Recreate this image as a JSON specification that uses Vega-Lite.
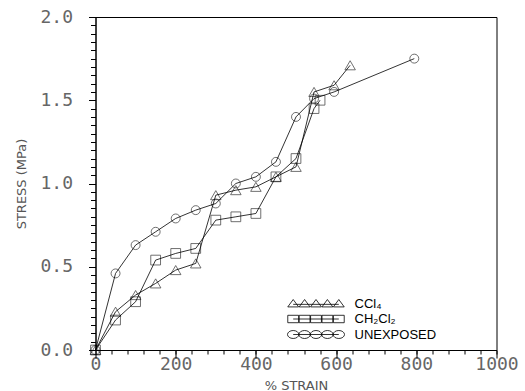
{
  "$schema": "https://vega.github.io/schema/vega-lite/v6.json",
  "width": 401,
  "height": 333,
  "padding": {"left": 15.5, "top": 8, "right": 5, "bottom": 5},
  "config": {
    "view": {"stroke": "#000", "strokeWidth": 1}
  },
  "data": {
    "values": [
      {"series": "CCl₄", "strain": 0, "stress": 0.0},
      {"series": "CCl₄", "strain": 50, "stress": 0.23},
      {"series": "CCl₄", "strain": 100, "stress": 0.33},
      {"series": "CCl₄", "strain": 150, "stress": 0.40},
      {"series": "CCl₄", "strain": 200, "stress": 0.48},
      {"series": "CCl₄", "strain": 250, "stress": 0.52},
      {"series": "CCl₄", "strain": 300, "stress": 0.93},
      {"series": "CCl₄", "strain": 350, "stress": 0.96},
      {"series": "CCl₄", "strain": 400, "stress": 0.98},
      {"series": "CCl₄", "strain": 450, "stress": 1.04},
      {"series": "CCl₄", "strain": 500, "stress": 1.10},
      {"series": "CCl₄", "strain": 545, "stress": 1.55},
      {"series": "CCl₄", "strain": 595, "stress": 1.59},
      {"series": "CCl₄", "strain": 635, "stress": 1.71},
      {"series": "CH₂Cl₂", "strain": 0, "stress": 0.0},
      {"series": "CH₂Cl₂", "strain": 50, "stress": 0.18},
      {"series": "CH₂Cl₂", "strain": 100, "stress": 0.29},
      {"series": "CH₂Cl₂", "strain": 150, "stress": 0.54},
      {"series": "CH₂Cl₂", "strain": 200, "stress": 0.58},
      {"series": "CH₂Cl₂", "strain": 250, "stress": 0.61},
      {"series": "CH₂Cl₂", "strain": 300, "stress": 0.78},
      {"series": "CH₂Cl₂", "strain": 350, "stress": 0.80},
      {"series": "CH₂Cl₂", "strain": 400, "stress": 0.82},
      {"series": "CH₂Cl₂", "strain": 450, "stress": 1.04},
      {"series": "CH₂Cl₂", "strain": 500, "stress": 1.15},
      {"series": "CH₂Cl₂", "strain": 545, "stress": 1.45},
      {"series": "CH₂Cl₂", "strain": 560, "stress": 1.50},
      {"series": "UNEXPOSED", "strain": 0, "stress": 0.0},
      {"series": "UNEXPOSED", "strain": 50, "stress": 0.46},
      {"series": "UNEXPOSED", "strain": 100, "stress": 0.63},
      {"series": "UNEXPOSED", "strain": 150, "stress": 0.71},
      {"series": "UNEXPOSED", "strain": 200, "stress": 0.79},
      {"series": "UNEXPOSED", "strain": 250, "stress": 0.84},
      {"series": "UNEXPOSED", "strain": 300, "stress": 0.88},
      {"series": "UNEXPOSED", "strain": 350, "stress": 1.00},
      {"series": "UNEXPOSED", "strain": 400, "stress": 1.04},
      {"series": "UNEXPOSED", "strain": 450, "stress": 1.13},
      {"series": "UNEXPOSED", "strain": 500, "stress": 1.40},
      {"series": "UNEXPOSED", "strain": 545, "stress": 1.51},
      {"series": "UNEXPOSED", "strain": 595, "stress": 1.55},
      {"series": "UNEXPOSED", "strain": 795, "stress": 1.75}
    ]
  },
  "layer": [
    {
      "mark": {"type": "line", "color": "#000", "strokeWidth": 0.8},
      "encoding": {
        "x": {
          "field": "strain", "type": "quantitative",
          "scale": {"domain": [0, 1000], "nice": false},
          "axis": {
            "orient": "bottom",
            "grid": false,
            "domainColor": "#000",
            "values": [0, 200, 400, 600, 800, 1000],
            "format": "d",
            "ticks": false,
            "labelPadding": 5,
            "labelFont": "DejaVu Sans Mono",
            "labelFontSize": 18,
            "labelColor": "#666",
            "labelFlush": false,
            "labelOverlap": false,
            "title": "%  STRAIN",
            "titleFont": "DejaVu Sans",
            "titleFontWeight": "normal",
            "titleFontSize": 13,
            "titleColor": "#555",
            "titlePadding": 6
          }
        },
        "y": {
          "field": "stress", "type": "quantitative",
          "scale": {"domain": [0, 2], "nice": false},
          "axis": {
            "orient": "left",
            "grid": false,
            "domainColor": "#000",
            "values": [0, 0.5, 1, 1.5, 2],
            "format": ".1f",
            "ticks": false,
            "labelPadding": 23,
            "labelFont": "DejaVu Sans Mono",
            "labelFontSize": 18,
            "labelColor": "#666",
            "labelFlush": false,
            "labelOverlap": false,
            "title": "STRESS (MPa)",
            "titleFont": "DejaVu Sans",
            "titleFontWeight": "normal",
            "titleFontSize": 13,
            "titleColor": "#555",
            "titlePadding": 11
          }
        },
        "detail": {"field": "series", "type": "nominal"}
      }
    },
    {
      "mark": {"type": "point", "filled": false, "color": "#000", "strokeWidth": 0.8},
      "encoding": {
        "x": {
          "field": "strain", "type": "quantitative",
          "axis": {
            "orient": "bottom",
            "grid": false,
            "values": [0, 200, 400, 600, 800, 1000],
            "ticks": true,
            "tickSize": 8,
            "tickColor": "#000",
            "labels": false,
            "domain": false,
            "title": null
          }
        },
        "y": {
          "field": "stress", "type": "quantitative",
          "axis": {
            "orient": "left",
            "grid": false,
            "values": [0, 0.5, 1, 1.5, 2],
            "ticks": true,
            "tickSize": 7,
            "tickColor": "#000",
            "labels": false,
            "domain": false,
            "title": null
          }
        },
        "shape": {
          "field": "series", "type": "nominal",
          "scale": {"domain": ["CCl₄", "CH₂Cl₂", "UNEXPOSED"], "range": ["triangle-up", "square", "circle"]},
          "legend": null
        },
        "size": {
          "field": "series", "type": "nominal",
          "scale": {"domain": ["CCl₄", "CH₂Cl₂", "UNEXPOSED"], "range": [110, 80, 110]},
          "legend": null
        }
      }
    },
    {
      "mark": {"type": "point", "filled": false, "color": "#000", "opacity": 0},
      "encoding": {
        "x": {
          "field": "strain", "type": "quantitative",
          "axis": {
            "orient": "bottom",
            "grid": false,
            "values": [0, 40, 80, 120, 160, 200, 240, 280, 320, 360, 400, 440, 480, 520, 560, 600, 640, 680, 720, 760, 800, 840, 880, 920, 960, 1000],
            "ticks": true,
            "tickSize": 4,
            "tickColor": "#000",
            "labels": false,
            "domain": false,
            "title": null
          }
        },
        "y": {
          "field": "stress", "type": "quantitative",
          "axis": {
            "orient": "left",
            "grid": false,
            "values": [0, 0.05, 0.1, 0.15, 0.2, 0.25, 0.3, 0.35, 0.4, 0.45, 0.5, 0.55, 0.6, 0.65, 0.7, 0.75, 0.8, 0.85, 0.9, 0.95, 1, 1.05, 1.1, 1.15, 1.2, 1.25, 1.3, 1.35, 1.4, 1.45, 1.5, 1.55, 1.6, 1.65, 1.7, 1.75, 1.8, 1.85, 1.9, 1.95, 2],
            "ticks": true,
            "tickSize": 5,
            "tickColor": "#000",
            "labels": false,
            "domain": false,
            "title": null
          }
        },
        "shape": {
          "field": "series", "type": "nominal",
          "scale": {
            "domain": ["CCl₄", "CH₂Cl₂", "UNEXPOSED"],
            "range": [
              "M-4.95,0.6L-4,-0.7L-3.05,0.6ZM-2.95,0.6L-2,-0.7L-1.05,0.6ZM-0.95,0.6L0,-0.7L0.95,0.6ZM1.05,0.6L2,-0.7L2.95,0.6ZM3.05,0.6L4,-0.7L4.95,0.6ZM-4,0.15L4,0.15",
              "M-4.95,-0.65h1.9v1.3h-1.9ZM-2.95,-0.65h1.9v1.3h-1.9ZM-0.95,-0.65h1.9v1.3h-1.9ZM1.05,-0.65h1.9v1.3h-1.9ZM3.05,-0.65h1.9v1.3h-1.9ZM-4,0L4,0",
              "M-5,0A1,0.7 0 1 0 -3,0A1,0.7 0 1 0 -5,0ZM-3,0A1,0.7 0 1 0 -1,0A1,0.7 0 1 0 -3,0ZM-1,0A1,0.7 0 1 0 1,0A1,0.7 0 1 0 -1,0ZM1,0A1,0.7 0 1 0 3,0A1,0.7 0 1 0 1,0ZM3,0A1,0.7 0 1 0 5,0A1,0.7 0 1 0 3,0ZM-4,0L4,0"
            ]
          },
          "legend": {
            "title": null,
            "orient": "none",
            "legendX": 214,
            "legendY": 280,
            "padding": 0,
            "symbolSize": 130,
            "symbolStrokeColor": "#000",
            "symbolFillColor": "transparent",
            "symbolStrokeWidth": 0.8,
            "symbolOpacity": 1,
            "labelFont": "Liberation Sans",
            "labelFontSize": 13,
            "labelColor": "#000",
            "labelOffset": 32,
            "rowPadding": 1.5
          }
        }
      }
    }
  ],
  "resolve": {
    "scale": {"shape": "independent"},
    "axis": {"x": "independent", "y": "independent"}
  }
}
